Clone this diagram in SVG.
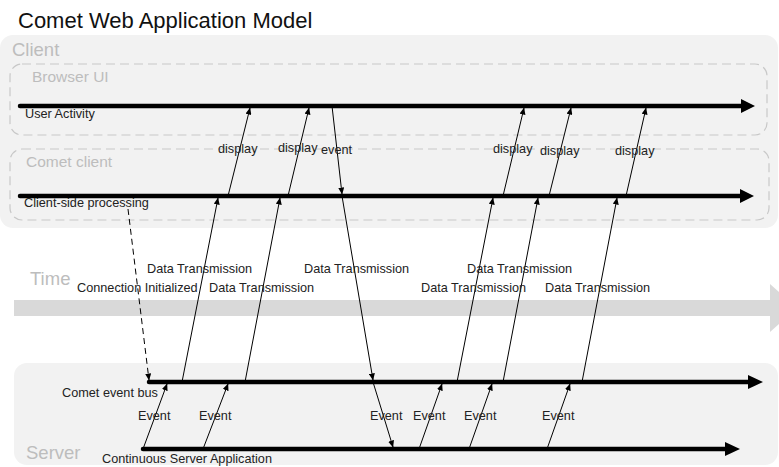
<svg xmlns="http://www.w3.org/2000/svg" width="779" height="467" viewBox="0 0 779 467">
<style>
.title{font-family:"Liberation Sans",Arial,sans-serif;font-size:22px;fill:#111}
.zone{font-family:"Liberation Sans",Arial,sans-serif;font-size:18.5px;fill:#bdbdbd}
.sub{font-family:"Liberation Sans",Arial,sans-serif;font-size:15.5px;fill:#bdbdbd}
.lbl{font-family:"Liberation Sans",Arial,sans-serif;font-size:12.7px;fill:#222}
.dash{fill:none;stroke:#c8c8c8;stroke-width:1.2;stroke-dasharray:9,5}
.tl{stroke:#000;stroke-width:4.5;stroke-linecap:round}
.c{stroke:#000;stroke-width:1;fill:none;marker-end:url(#ah)}
</style>
<defs>
<marker id="ah" markerWidth="7" markerHeight="6" refX="6.5" refY="3" orient="auto" markerUnits="userSpaceOnUse">
<path d="M0,0 L7,3 L0,6 z" fill="#000"/>
</marker>
</defs>
<rect width="779" height="467" fill="#fff"/>
<text class="title" x="18" y="28">Comet Web Application Model</text>

<g id="client">
<rect x="0" y="35" width="778" height="193" rx="13" fill="#f2f2f2"/>
<text class="zone" x="12" y="56">Client</text>
</g>
<g id="browser-ui">
<rect class="dash" x="10" y="64" width="757" height="71" rx="12"/>
<text class="sub" x="32" y="82">Browser UI</text>
</g>
<g id="comet-client">
<rect class="dash" x="10" y="149" width="759" height="71" rx="12"/>
<text class="sub" x="26" y="167">Comet client</text>
</g>
<g id="time">
<rect x="14" y="300" width="757" height="16" fill="#d9d9d9"/>
<polygon points="770,284 797,308 770,332" fill="#d9d9d9"/>
<text class="zone" x="30" y="285">Time</text>
</g>
<g id="server">
<rect x="14" y="363" width="764" height="102" rx="13" fill="#f2f2f2"/>
<text class="zone" x="26" y="459">Server</text>
</g>

<g id="user-activity">
<line class="tl" x1="20" y1="106" x2="742" y2="106"/>
<polygon points="741,99 755,106 741,113"/>
<text class="lbl" x="25" y="118">User Activity</text>
</g>
<g id="client-side-processing">
<line class="tl" x1="20" y1="196" x2="741" y2="196"/>
<polygon points="740,189 754,196 740,203"/>
<text class="lbl" x="24" y="207">Client-side processing</text>
</g>
<g id="comet-event-bus">
<line class="tl" x1="149" y1="382" x2="749" y2="382"/>
<polygon points="748,375 763,382 748,389"/>
<text class="lbl" x="62" y="397">Comet event bus</text>
</g>
<g id="continuous-server-application">
<line class="tl" x1="143" y1="449" x2="726" y2="449"/>
<polygon points="725,442 740,449 725,456"/>
<text class="lbl" x="102" y="463">Continuous Server Application</text>
</g>

<g id="connectors">
<path class="c" d="M128,209 L149,380" stroke-dasharray="6,4"/>
<path class="c" d="M143,449 L167,384"/>
<path class="c" d="M182,382 L218,198"/>
<path class="c" d="M228,196 L250,108"/>
<path class="c" d="M203,449 L228,384"/>
<path class="c" d="M245,382 L280,198"/>
<path class="c" d="M288,196 L309,108"/>
<path class="c" d="M332,106 L342,194"/>
<path class="c" d="M342,196 L373,380"/>
<path class="c" d="M373,382 L393,447"/>
<path class="c" d="M419,449 L442,384"/>
<path class="c" d="M457,382 L493,198"/>
<path class="c" d="M503,196 L524,108"/>
<path class="c" d="M469,449 L492,384"/>
<path class="c" d="M503,382 L538,198"/>
<path class="c" d="M549,196 L571,108"/>
<path class="c" d="M547,449 L570,384"/>
<path class="c" d="M582,382 L617,198"/>
<path class="c" d="M626,196 L646,108"/>
</g>

<g id="connector-labels">
<text class="lbl" x="218" y="153">display</text>
<text class="lbl" x="278" y="152">display</text>
<text class="lbl" x="321" y="154">event</text>
<text class="lbl" x="493" y="153">display</text>
<text class="lbl" x="540" y="155">display</text>
<text class="lbl" x="615" y="155">display</text>
<text class="lbl" x="147" y="273">Data Transmission</text>
<text class="lbl" x="304" y="273">Data Transmission</text>
<text class="lbl" x="467" y="273">Data Transmission</text>
<text class="lbl" x="77" y="292">Connection Initialized</text>
<text class="lbl" x="209" y="292">Data Transmission</text>
<text class="lbl" x="421" y="292">Data Transmission</text>
<text class="lbl" x="545" y="292">Data Transmission</text>
<text class="lbl" x="138" y="420">Event</text>
<text class="lbl" x="199" y="420">Event</text>
<text class="lbl" x="370" y="420">Event</text>
<text class="lbl" x="413" y="420">Event</text>
<text class="lbl" x="464" y="420">Event</text>
<text class="lbl" x="542" y="420">Event</text>
</g>
</svg>
